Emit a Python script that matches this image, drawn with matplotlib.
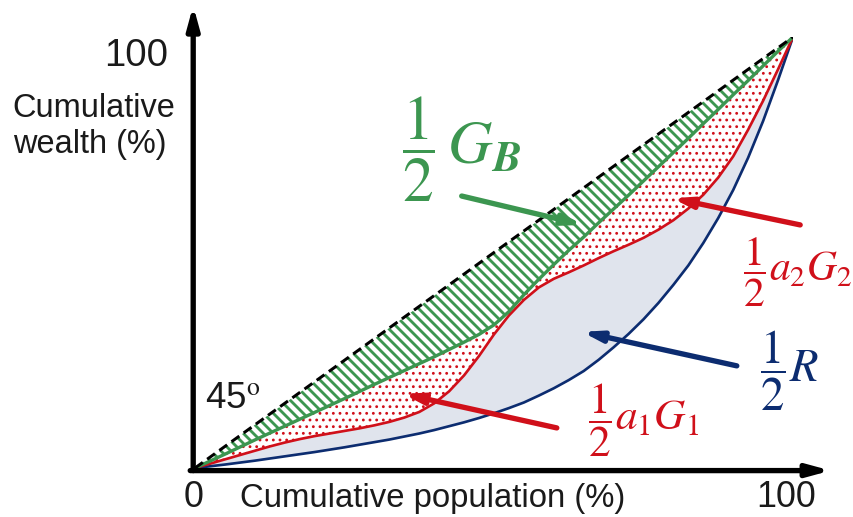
import matplotlib
matplotlib.use("Agg")
import matplotlib.pyplot as plt

plt.rcParams['font.family'] = ['Liberation Sans', 'DejaVu Sans']
plt.rcParams['mathtext.fontset'] = 'stix'

# ---- data ----
pop = [0, 2.5, 5, 7.5, 10, 12.5, 15, 17.5, 20, 22.5, 25, 27.5, 30, 32.5, 35,
       37.5, 40, 42.5, 45, 47.5, 50, 52.5, 55, 57.5, 60, 62.5, 65, 67.5, 70,
       72.5, 75, 77.5, 80, 82.5, 85, 87.5, 90, 92.5, 95, 97.5, 100]
lorenz_overall = [0, 0.4, 0.8, 1.25, 1.7, 2.2, 2.7, 3.2, 3.7, 4.25, 4.8, 5.4,
                  6.0, 6.6, 7.3, 8.0, 8.8, 9.7, 10.6, 11.6, 12.7, 13.9, 15.2,
                  16.8, 18.5, 20.4, 22.5, 25.1, 28.0, 31.1, 34.5, 38.3, 42.5,
                  47.0, 52.2, 58.0, 64.5, 72.0, 80.5, 90.0, 100]
lorenz_within = [0, 1.0, 2.0, 3.0, 4.0, 5.0, 5.9, 6.7, 7.4, 8.0, 8.6, 9.2,
                 9.9, 10.7, 11.7, 13.0, 15.0, 17.8, 21.5, 26.0, 31.0, 35.4,
                 39.0, 41.9, 43.9, 45.4, 47.0, 48.7, 50.3, 51.8, 53.4, 55.3,
                 57.5, 60.2, 63.4, 67.4, 72.3, 78.5, 85.2, 92.5, 100]
lorenz_between = [0, 1.6, 3.2, 4.85, 6.5, 8.1, 9.7, 11.3, 12.9, 14.5, 16.1,
                  17.75, 19.4, 21.0, 22.6, 24.2, 25.8, 27.5, 29.2, 31.0, 33.2,
                  36.3, 40.2, 43.8, 47.2, 50.5, 53.6, 56.9, 60.1, 63.3, 66.6,
                  69.9, 73.2, 76.5, 79.9, 83.2, 86.6, 89.9, 93.3, 96.7, 100]
equality_x = [0, 100]
equality_y = [0, 100]

x_tick_labels = ["0", "100"]
y_tick_labels = ["100"]

GREEN = '#3c9650'
RED = '#d0101a'
BLUE = '#0c2c70'
LIGHT = '#e0e4ed'

W, H, DPI = 853, 517, 120
fig = plt.figure(figsize=(W / DPI, H / DPI), dpi=DPI)
x0, y0, x1, y1 = 195, 468, 793, 37
ax = fig.add_axes([x0 / W, (H - y0) / H, (x1 - x0) / W, (y0 - y1) / H])
ax.set_xlim(0, 100)
ax.set_ylim(0, 100)
ax.axis('off')

# fills
ax.fill_between(pop, lorenz_overall, lorenz_within, facecolor=LIGHT,
                edgecolor='none', zorder=1)
with plt.rc_context({'hatch.linewidth': 0.9}):
    ax.fill_between(pop, lorenz_within, lorenz_between, facecolor='none',
                    edgecolor=RED, linewidth=0, hatch='...', zorder=2)
with plt.rc_context({'hatch.linewidth': 1.7}):
    ax.fill_between(pop, lorenz_between, pop, facecolor='none',
                    edgecolor=GREEN, linewidth=0, hatch='\\\\\\\\', zorder=2)

# curves
ax.plot(pop, lorenz_overall, color=BLUE, lw=1.6, zorder=4)
ax.plot(pop, lorenz_within, color=RED, lw=1.6, zorder=4)
ax.plot(pop, lorenz_between, color=GREEN, lw=2.0, zorder=4)
ax.plot(equality_x, equality_y, color='black', lw=1.8, ls=(0, (3.2, 1.8)),
        zorder=5)

# axes arrows
axis_kw = dict(arrowstyle='-|>,head_length=1.1,head_width=0.3', lw=3.2,
               color='black', shrinkA=0, shrinkB=0)
ax.annotate('', xy=(-0.3, 107.3), xytext=(-0.3, -0.6), arrowprops=axis_kw,
            annotation_clip=False)
ax.annotate('', xy=(106.3, -0.6), xytext=(-0.8, -0.6), arrowprops=axis_kw,
            annotation_clip=False)

# axis texts
TXT = '#1a1a1a'
ax.text(-4.5, 95.6, y_tick_labels[0], ha='right', va='center', fontsize=23,
        color=TXT, clip_on=False)
ax.text(-30.5, 79.2, "Cumulative\nwealth (%)", ha='left', va='center',
        fontsize=19.5, color=TXT, linespacing=1.2, clip_on=False)
ax.text(-0.2, -6.85, x_tick_labels[0], ha='center', va='center', fontsize=21.5,
        color=TXT, clip_on=False)
ax.text(98.8, -6.85, x_tick_labels[1], ha='center', va='center', fontsize=21.5,
        color=TXT, clip_on=False)
ax.text(39.7, -7.1, "Cumulative population (%)", ha='center', va='center',
        fontsize=19.7, color=TXT, clip_on=False)
ax.text(1.7, 16.2, r"45$^{\mathrm{o}}$", ha='left', va='center', fontsize=22,
        color=TXT)

# labels with arrows
arrow_kw = dict(arrowstyle='-|>,head_length=0.9,head_width=0.25', lw=3.2,
                shrinkA=0, shrinkB=0)
ax.annotate('', xy=(64.9, 56.4), xytext=(44.6, 63.1),
            arrowprops=dict(color=GREEN, **arrow_kw), zorder=6)
ax.annotate('', xy=(79.8, 62.6), xytext=(101.2, 56.4),
            arrowprops=dict(color=RED, **arrow_kw), annotation_clip=False, zorder=6)
ax.annotate('', xy=(64.7, 31.6), xytext=(90.6, 23.7),
            arrowprops=dict(color=BLUE, **arrow_kw), zorder=6)
ax.annotate('', xy=(34.8, 17.2), xytext=(60.5, 9.3),
            arrowprops=dict(color=RED, **arrow_kw), zorder=6)

ax.text(34.6, 74.0, r"$\dfrac{1}{2}\,G_{\boldsymbol{B}}$", color=GREEN,
        fontsize=37, ha='left', va='center', zorder=7)
ax.text(91.6, 45.3, r"$\dfrac{1}{2}a_2G_2$", color=RED, fontsize=25,
        ha='left', va='center', clip_on=False, zorder=7)
ax.text(94.5, 22.5, r"$\dfrac{1}{2}R$", color=BLUE, fontsize=28,
        ha='left', va='center', clip_on=False, zorder=7)
ax.text(65.7, 11.0, r"$\dfrac{1}{2}a_1G_1$", color=RED, fontsize=26,
        ha='left', va='center', zorder=7)

fig.savefig("out.png", dpi=DPI)
